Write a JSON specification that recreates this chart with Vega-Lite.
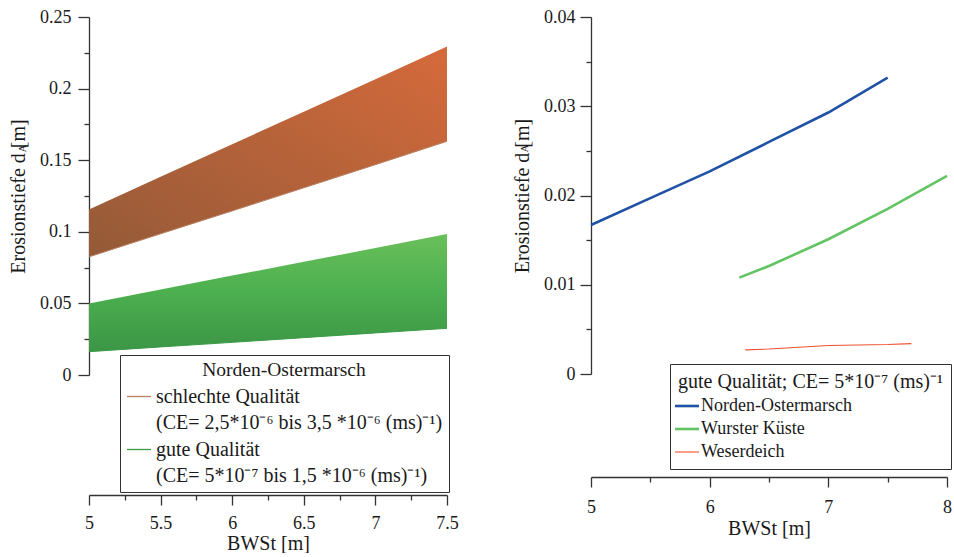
{
  "$schema": "https://vega.github.io/schema/vega-lite/v6.json",
  "padding": {"left": 8, "top": 8, "right": 0, "bottom": 0},
  "spacing": 53,
  "resolve": {"scale": {"stroke": "independent"}, "legend": {"stroke": "independent"}},
  "config": {
    "font": "Liberation Serif",
    "view": {"stroke": null},
    "axis": {
      "domainColor": "#333333", "tickColor": "#333333", "labelColor": "#1a1a1a", "titleColor": "#1a1a1a",
      "labelFont": "Liberation Serif", "titleFont": "Liberation Serif",
      "labelFontSize": 18, "titleFontSize": 20, "titleFontWeight": "normal",
      "grid": false, "domainWidth": 1.3, "tickWidth": 1.3, "labelFlush": false, "labelOverlap": false
    },
    "legend": {
      "labelFont": "Liberation Serif", "titleFont": "Liberation Serif",
      "titleFontWeight": "normal", "labelColor": "#1a1a1a", "titleColor": "#1a1a1a",
      "strokeColor": "#333333", "fillColor": "white", "labelLimit": 500, "titleLimit": 500
    }
  },
  "hconcat": [
    {
      "width": 358,
      "height": 358,
      "data": {"values": [
        {"BWSt": 5.0, "group": "schlecht", "lo": 0.0825, "hi": 0.1156},
        {"BWSt": 5.5, "group": "schlecht", "lo": 0.0986, "hi": 0.1384},
        {"BWSt": 6.0, "group": "schlecht", "lo": 0.1146, "hi": 0.1611},
        {"BWSt": 6.5, "group": "schlecht", "lo": 0.1307, "hi": 0.1839},
        {"BWSt": 7.0, "group": "schlecht", "lo": 0.1469, "hi": 0.2066},
        {"BWSt": 7.5, "group": "schlecht", "lo": 0.1632, "hi": 0.2294},
        {"BWSt": 5.0, "group": "gut", "lo": 0.0163, "hi": 0.0500},
        {"BWSt": 5.5, "group": "gut", "lo": 0.0196, "hi": 0.0597},
        {"BWSt": 6.0, "group": "gut", "lo": 0.0228, "hi": 0.0694},
        {"BWSt": 6.5, "group": "gut", "lo": 0.0261, "hi": 0.0790},
        {"BWSt": 7.0, "group": "gut", "lo": 0.0294, "hi": 0.0887},
        {"BWSt": 7.5, "group": "gut", "lo": 0.0326, "hi": 0.0984}
      ]},
      "layer": [
        {
          "transform": [{"filter": "datum.group == 'schlecht'"}],
          "mark": {"type": "area", "fill": {"gradient": "linear", "x1": 0, "y1": 1, "x2": 1, "y2": 0,
            "stops": [{"offset": 0, "color": "#945a38"}, {"offset": 1, "color": "#d56a3b"}]}},
          "encoding": {
            "x": {"field": "BWSt", "type": "quantitative", "scale": {"domain": [5, 7.5], "nice": false, "zero": false},
              "axis": {"values": [5, 5.5, 6, 6.5, 7, 7.5], "format": "~g", "offset": 120, "tickSize": 10, "labelPadding": 9, "title": "BWSt [m]", "titlePadding": 1}},
            "y": {"field": "hi", "type": "quantitative", "scale": {"domain": [0, 0.25], "nice": false},
              "axis": {"values": [0, 0.05, 0.1, 0.15, 0.2, 0.25], "format": "~g", "tickSize": 11, "labelPadding": 7, "title": "Erosionstiefe d  [m]", "titlePadding": 11}},
            "y2": {"field": "lo"}
          }
        },
        {
          "transform": [{"filter": "datum.group == 'gut'"}],
          "mark": {"type": "area", "fill": {"gradient": "linear", "x1": 0, "y1": 0, "x2": 0, "y2": 1,
            "stops": [{"offset": 0, "color": "#69c05a"}, {"offset": 0.5, "color": "#4caf4f"}, {"offset": 1, "color": "#3b9546"}]}},
          "encoding": {
            "x": {"field": "BWSt", "type": "quantitative", "axis": null},
            "y": {"field": "hi", "type": "quantitative", "axis": null},
            "y2": {"field": "lo"}
          }
        },
        {
          "mark": {"type": "line", "strokeWidth": 1},
          "encoding": {
            "x": {"field": "BWSt", "type": "quantitative",
              "axis": {"values": [5.25, 5.75, 6.25, 6.75, 7.25], "orient": "bottom", "offset": 120, "tickSize": 5, "labels": false, "domain": false, "title": null}},
            "y": {"field": "lo", "type": "quantitative",
              "axis": {"values": [0.025, 0.075, 0.125, 0.175, 0.225], "orient": "left", "tickSize": 5, "labels": false, "domain": false, "title": "A", "titleFontSize": 11, "titleX": -62, "titleY": 131}},
            "detail": {"field": "group"},
            "stroke": {"field": "group", "type": "nominal",
              "scale": {"domain": ["schlecht", "gut"], "range": ["#b98062", "#3b9a46"]},
              "legend": {
                "orient": "none", "legendX": 31, "legendY": 338,
                "title": "Norden-Ostermarsch", "titleAnchor": "middle", "titleFontSize": 19.5, "titlePadding": 3,
                "symbolType": "stroke", "symbolSize": 576, "symbolStrokeWidth": 1.3,
                "labelFontSize": 20, "labelOffset": 4, "rowPadding": 4, "padding": 6,
                "labelExpr": "datum.value == 'schlecht' ? ['schlechte Qualität', '(CE= 2,5*10⁻⁶ bis 3,5 *10⁻⁶ (ms)⁻¹)'] : ['gute Qualität', '(CE= 5*10⁻⁷ bis 1,5 *10⁻⁶ (ms)⁻¹)']",
                "encode": {"labels": {"update": {"lineHeight": {"value": 26}}}}
              }}
          }
        }
      ],
      "resolve": {"axis": {"x": "independent", "y": "independent"}}
    },
    {
      "width": 356,
      "height": 357,
      "data": {"values": [
        {"BWSt": 5.0, "series": "Norden-Ostermarsch", "dA": 0.0167},
        {"BWSt": 5.5, "series": "Norden-Ostermarsch", "dA": 0.0197},
        {"BWSt": 6.0, "series": "Norden-Ostermarsch", "dA": 0.0227},
        {"BWSt": 6.5, "series": "Norden-Ostermarsch", "dA": 0.0260},
        {"BWSt": 7.0, "series": "Norden-Ostermarsch", "dA": 0.0293},
        {"BWSt": 7.5, "series": "Norden-Ostermarsch", "dA": 0.0332},
        {"BWSt": 6.25, "series": "Wurster Küste", "dA": 0.0108},
        {"BWSt": 6.5, "series": "Wurster Küste", "dA": 0.0121},
        {"BWSt": 7.0, "series": "Wurster Küste", "dA": 0.0151},
        {"BWSt": 7.5, "series": "Wurster Küste", "dA": 0.0185},
        {"BWSt": 8.0, "series": "Wurster Küste", "dA": 0.0222},
        {"BWSt": 6.3, "series": "Weserdeich", "dA": 0.0027},
        {"BWSt": 6.5, "series": "Weserdeich", "dA": 0.0028},
        {"BWSt": 6.75, "series": "Weserdeich", "dA": 0.0030},
        {"BWSt": 7.0, "series": "Weserdeich", "dA": 0.0032},
        {"BWSt": 7.5, "series": "Weserdeich", "dA": 0.0033},
        {"BWSt": 7.7, "series": "Weserdeich", "dA": 0.0034}
      ]},
      "layer": [
        {
          "mark": {"type": "line"},
          "encoding": {
            "x": {"field": "BWSt", "type": "quantitative", "scale": {"domain": [5, 8], "nice": false, "zero": false},
              "axis": {"values": [5, 6, 7, 8], "format": "~g", "offset": 103, "tickSize": 10, "labelPadding": 11, "title": "BWSt [m]", "titlePadding": 2}},
            "y": {"field": "dA", "type": "quantitative", "scale": {"domain": [0, 0.04], "nice": false},
              "axis": {"values": [0, 0.01, 0.02, 0.03, 0.04], "format": "~g", "tickSize": 11, "labelPadding": 5, "title": "Erosionstiefe d  [m]", "titlePadding": 11}},
            "strokeWidth": {"condition": {"test": "datum.series === 'Weserdeich'", "value": 1.1}, "value": 2.6},
            "stroke": {"field": "series", "type": "nominal",
              "scale": {"domain": ["Norden-Ostermarsch", "Wurster Küste", "Weserdeich"], "range": ["#1f52a5", "#62c462", "#f0502f"]},
              "legend": {
                "orient": "none", "legendX": 79, "legendY": 347,
                "title": "gute Qualität; CE= 5*10⁻⁷ (ms)⁻¹", "titleFontSize": 20, "titlePadding": 5,
                "symbolType": "stroke", "symbolSize": 576,
                "labelFontSize": 18, "labelOffset": 5, "rowPadding": 5, "padding": 8,
                "encode": {"symbols": {"update": {"strokeWidth": {"signal": "datum.value === 'Weserdeich' ? 1.1 : 2.6"}}}}
              }}
          }
        },
        {
          "mark": {"type": "point", "opacity": 0},
          "encoding": {
            "x": {"field": "BWSt", "type": "quantitative",
              "axis": {"values": [5.5, 6.5, 7.5], "orient": "bottom", "offset": 103, "tickSize": 5, "labels": false, "domain": false, "title": null}},
            "y": {"field": "dA", "type": "quantitative",
              "axis": {"values": [0.005, 0.015, 0.025, 0.035], "orient": "left", "tickSize": 5, "labels": false, "domain": false, "title": "A", "titleFontSize": 11, "titleX": -62, "titleY": 131}}
          }
        }
      ],
      "resolve": {"axis": {"x": "independent", "y": "independent"}}
    }
  ]
}
